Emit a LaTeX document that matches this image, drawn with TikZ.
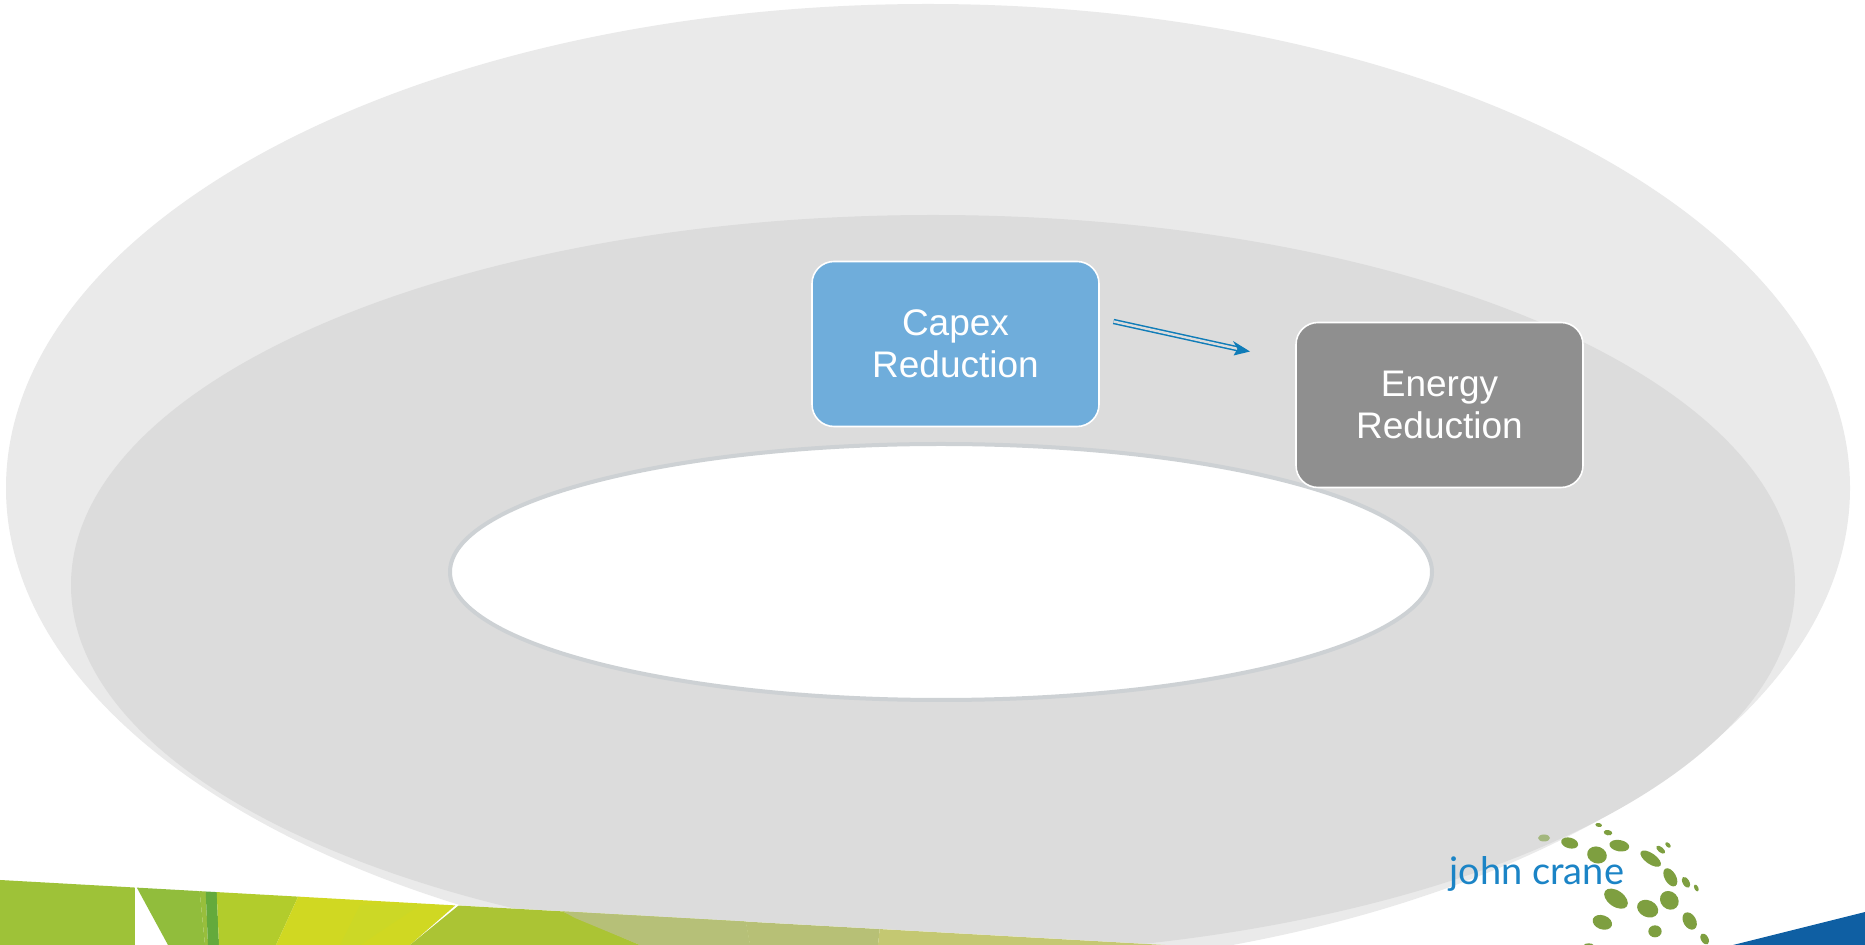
\documentclass[tikz,border=0pt]{standalone}
\usepackage{fontspec}
\setmainfont{Liberation Sans}
\newfontfamily\logofont{Lato}
\usetikzlibrary{arrows.meta}
\definecolor{outerc}{HTML}{EAEAEA}
\definecolor{midc}{HTML}{DCDCDC}
\definecolor{innerb}{HTML}{CDD1D4}
\definecolor{capexc}{HTML}{6FADDB}
\definecolor{energyc}{HTML}{8F8F8F}
\definecolor{arrowc}{HTML}{0F7CB8}
\definecolor{logog}{HTML}{7E9F40}
\definecolor{logob}{HTML}{1B84C6}
\definecolor{bluec}{HTML}{0F5FA3}
\tikzset{
  box/.style={draw=white,line width=0.8pt,rounded corners=11pt,minimum width=143.5pt,minimum height=82.5pt,
    text=white,align=center,font=\fontsize{18.5}{21}\selectfont,inner sep=0pt},
  dotg/.style={fill=logog}
}
\newcommand{\logodot}[5]{\fill[dotg,shift={(1400+#1/3,790+#2/3)},rotate=-#5] (0,0) ellipse [x radius=#3/3,y radius=#4/3];}
\begin{document}
\begin{tikzpicture}[x=0.5pt,y=-0.5pt]
\useasboundingbox (0,0) rectangle (1865,945);
\clip (0,0) rectangle (1865,945);
\fill[white] (0,0) rectangle (1865,945);
% rings
\fill[outerc] (928,488) ellipse [x radius=922,y radius=484];
\fill[midc] (933,585) ellipse [x radius=862,y radius=370];
\filldraw[fill=white,draw=innerb,line width=2pt] (941,572) ellipse [x radius=491,y radius=128];
% boxes
\node[box,fill=capexc] (capex) at (955.5,344) {Capex\\Reduction};
\node[box,fill=energyc] (energy) at (1439.5,405) {Energy\\Reduction};
% arrow
\coordinate (arrowstart) at (1113.5,321.5);
\coordinate (arrowend) at (1250,351.5);
\draw[arrowc,double=midc,line width=0.75pt,double distance=1.2pt,shorten >=6pt] (arrowstart) -- (arrowend);
\fill[arrowc] (1250,351.5) -- (1233,341) -- (1237.5,349) -- (1233.5,355.5) -- cycle;
% bottom-left strip
\begin{scope}
\clip (0,880) -- (1165,945) -- (0,945) -- cycle;
\fill[white] (0,880) -- (1165,945) -- (0,945) -- cycle;
\fill[fill=white] (0,880) rectangle (1165,945);
\fill[color={rgb,255:red,158;green,194;blue,56}] (0,875) rectangle (135,945);
\fill[color={rgb,255:red,145;green,189;blue,60}] (130,875) -- (198,875) -- (205,945) -- (168,945) -- cycle;
\fill[color={rgb,255:red,152;green,190;blue,60}] (198,875) -- (205,875) -- (208,945) -- (205,945) -- cycle;
\fill[color={rgb,255:red,100;green,170;blue,60}] (205,875) -- (216,875) -- (219,945) -- (208,945) -- cycle;
\fill[color={rgb,255:red,178;green,204;blue,44}] (216,875) -- (308,875) -- (276,945) -- (219,945) -- cycle;
\fill[color={rgb,255:red,208;green,216;blue,34}] (308,875) -- (490,875) -- (410,945) -- (276,945) -- cycle;
\fill[color={rgb,255:red,204;green,216;blue,38}] (360,905) -- (420,905) -- (360,945) -- (340,945) -- cycle;
\fill[color={rgb,255:red,171;green,196;blue,52}] (490,880) -- (640,945) -- (410,945) -- cycle;
\fill[color={rgb,255:red,174;green,196;blue,72}] (490,880) -- (738,880) -- (750,945) -- (640,945) -- cycle;
\fill[color={rgb,255:red,182;green,192;blue,120}] (505,880) -- (738,880) -- (750,945) -- (640,945) -- (575,918) -- cycle;
\fill[color={rgb,255:red,183;green,192;blue,118}] (738,880) -- (885,880) -- (878,945) -- (750,945) -- cycle;
\fill[color={rgb,255:red,196;green,200;blue,114}] (885,880) -- (1170,880) -- (1170,945) -- (878,945) -- cycle;
\end{scope}
% bottom-right blue wedge
\fill[bluec] (1733,945) -- (1865,912) -- (1865,945) -- cycle;
% logo
\fill[logog,opacity=0.6,shift={(1400+432/3,790+144/3)}] (0,0) ellipse [x radius=6,y radius=3.5];
\logodot{509}{159}{26}{16}{15}
\logodot{596}{105}{10}{6}{10}
\logodot{624}{128}{13}{8}{10}
\logodot{591}{195}{30}{25}{20}
\logodot{658}{167}{30}{17}{10}
\logodot{752}{206}{36}{16}{35}
\logodot{782}{179}{16}{8}{40}
\logodot{804}{165}{10}{6}{45}
\logodot{811}{262}{30}{17}{60}
\logodot{858}{277}{18}{10}{60}
\logodot{889}{294}{11}{6}{65}
\logodot{648}{326}{40}{24}{35}
\logodot{743}{356}{33}{25}{25}
\logodot{808}{331}{30}{26}{45}
\logodot{869}{393}{28}{19}{60}
\logodot{607}{397}{30}{21}{20}
\logodot{765}{424}{20}{18}{0}
\logodot{914}{447}{18}{11}{60}
\logodot{566}{465}{14}{5}{0}
\node[anchor=base west,inner sep=0pt,text=logob,font=\logofont\fontsize{19}{19}\selectfont] (logo) at (1449,885) {john crane};
\end{tikzpicture}
\end{document}
